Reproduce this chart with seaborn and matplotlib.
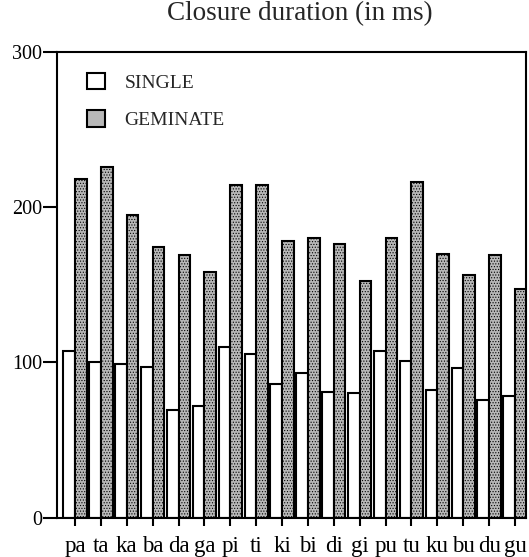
import matplotlib
matplotlib.use("Agg")
import matplotlib.pyplot as plt
import pandas as pd
import seaborn as sns

# values (closure duration, ms)
syllables = ["pa", "ta", "ka", "ba", "da", "ga", "pi", "ti", "ki",
             "bi", "di", "gi", "pu", "tu", "ku", "bu", "du", "gu"]
single = [107, 100, 99, 97, 69, 72, 110, 105, 86,
          93, 81, 80, 107, 101, 82, 96, 76, 78]
geminate = [218, 226, 195, 174, 169, 158, 214, 214, 178,
            180, 176, 152, 180, 216, 170, 156, 169, 147]
series = ["SINGLE", "GEMINATE"]

df = pd.DataFrame({
    "syllable": syllables * 2,
    "type": [series[0]] * len(syllables) + [series[1]] * len(syllables),
    "ms": single + geminate,
})

sns.set_style("ticks")
plt.rcParams["font.family"] = ["Liberation Serif", "DejaVu Serif"]
plt.rcParams["hatch.color"] = "#777777"
plt.rcParams["hatch.linewidth"] = 0.5

fig = plt.figure(figsize=(5.29, 5.57), dpi=100)
ax = fig.add_axes([0.1083, 0.0709, 0.8855, 0.8363])

sns.barplot(data=df, x="syllable", y="ms", hue="type", order=syllables,
            hue_order=series, palette=["white", "#b8b8b8"], width=0.9,
            edgecolor="black", linewidth=1.5, ax=ax)

for bar in ax.containers[1]:
    bar.set_hatch("......")

ax.set_xlim(-0.684, 17.413)
ax.set_ylim(0, 300)
ax.set_yticks([0, 100, 200, 300])
ax.set_xlabel("")
ax.set_ylabel("")

for side in ["left", "right", "top", "bottom"]:
    ax.spines[side].set_visible(True)
    ax.spines[side].set_linewidth(1.5)
    ax.spines[side].set_color("black")

ax.tick_params(axis="y", length=10, width=1.5, pad=1, labelsize=14.5,
               colors="black")
ax.tick_params(axis="x", length=6, width=1.5, pad=7, labelsize=16.5,
               colors="black")

handles, labels = ax.get_legend_handles_labels()
ax.legend(handles, labels, loc="upper left", bbox_to_anchor=(0.063, 0.955),
          frameon=False, fontsize=14, handlelength=0.95, handleheight=0.95,
          handletextpad=1.0, labelspacing=0.95, borderpad=0, borderaxespad=0)

fig.text(0.566, 1 - 20 / 557, "Closure duration (in ms)", ha="center",
         va="baseline", fontsize=19.5)

fig.savefig("out.png", dpi=100)
